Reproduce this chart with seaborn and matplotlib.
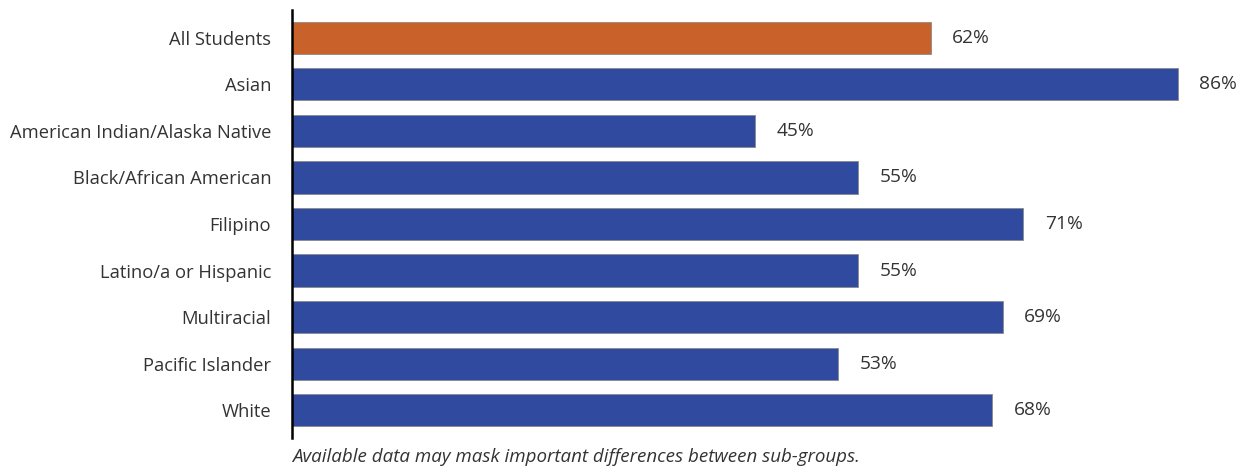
import pandas as pd
import matplotlib.pyplot as plt
import seaborn as sns

groups = ["All Students", "Asian", "American Indian/Alaska Native", "Black/African American",
          "Filipino", "Latino/a or Hispanic", "Multiracial", "Pacific Islander", "White"]
rates = [62, 86, 45, 55, 71, 55, 69, 53, 68]
bar_colors = ["#C8622A"] + ["#2F4A9F"] * 8

df = pd.DataFrame({"group": groups, "rate": rates})

sns.set_style("white")
plt.rcParams["font.family"] = ["Open Sans", "DejaVu Sans"]

fig = plt.figure(figsize=(12.56, 4.68), dpi=100)
ax = fig.add_axes([292 / 1256, 30 / 468, 964 / 1256, 428 / 468])

sns.barplot(data=df, x="rate", y="group", hue="group", palette=bar_colors, legend=False,
            saturation=1, width=0.69, edgecolor="#8a8a8a", linewidth=0.6, ax=ax)

for i, v in enumerate(rates):
    ax.text(v + 2.1, i, f"{v}%", va="center", ha="left", fontsize=13.8, color="#333333")

ax.set_xlim(0, 93.6)
ax.set_ylim(8.6, -0.6)
ax.set_xlabel("")
ax.set_ylabel("")
ax.set_xticks([])
ax.tick_params(axis="y", length=0, pad=15, labelsize=13.2, labelcolor="#333333")
sns.despine(ax=ax, top=True, right=True, bottom=True)
ax.spines["left"].set_color("black")
ax.spines["left"].set_linewidth(1.8)

fig.text(292 / 1256, 1 - 457 / 468, "Available data may mask important differences between sub-groups.",
         fontsize=13.5, style="italic", color="#333333", va="center", ha="left")

fig.savefig("out.png", dpi=100)
